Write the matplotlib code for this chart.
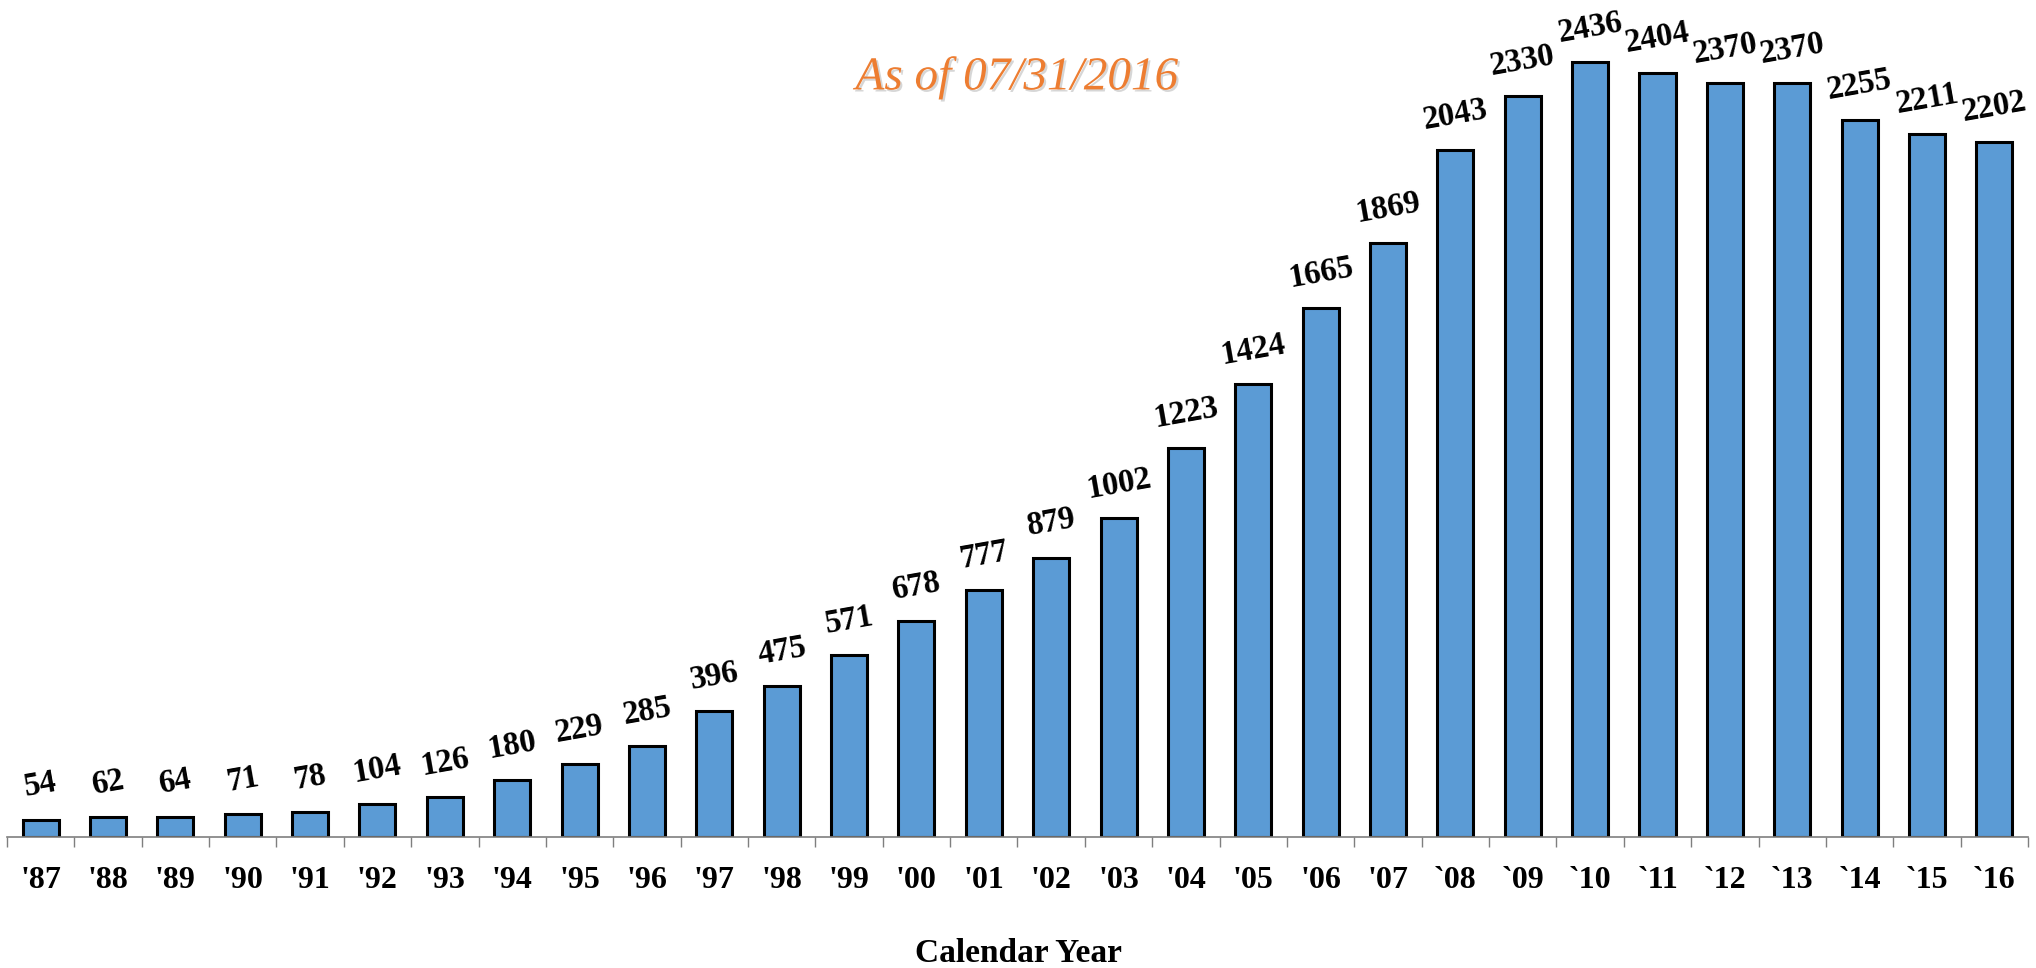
"""Bar chart of yearly counts by calendar year, as of 07/31/2016."""

from matplotlib import pyplot as plt
from matplotlib import patheffects
import numpy as np

YEARS = ["'87", "'88", "'89", "'90", "'91", "'92", "'93", "'94", "'95", "'96",
         "'97", "'98", "'99", "'00", "'01", "'02", "'03", "'04", "'05", "'06",
         "'07", "`08", "`09", "`10", "`11", "`12", "`13", "`14", "`15", "`16"]
# bar heights as drawn in the picture (the '08 and '16 bars are not drawn at their labelled value)
HEIGHTS = [54, 62, 64, 71, 78, 104, 126, 180, 229, 285,
           396, 475, 571, 678, 777, 879, 1002, 1223, 1424, 1665,
           1869, 2160, 2330, 2436, 2404, 2370, 2370, 2255, 2211, 2185]
LABELS = ["54", "62", "64", "71", "78", "104", "126", "180", "229", "285",
          "396", "475", "571", "678", "777", "879", "1002", "1223", "1424", "1665",
          "1869", "2043", "2330", "2436", "2404", "2370", "2370", "2255", "2211", "2202"]

BAR_COLOR = "#5B9BD5"
TITLE_COLOR = "#ED7D31"

plt.rcParams["font.family"] = ["Liberation Serif", "DejaVu Serif"]

fig = plt.figure(figsize=(20.36, 9.68), dpi=100)
ax = fig.add_axes([0.0034, 0.1353, 0.9927, 0.8213])

x = np.arange(len(YEARS))
ax.bar(x, HEIGHTS, width=0.535, color=BAR_COLOR, edgecolor="black", linewidth=2.2)

for xi, h, lab in zip(x, HEIGHTS, LABELS):
    ax.annotate(lab, (xi, h), xytext=(0, 25), textcoords="offset points",
                ha="center", va="center", rotation=10, fontsize=23.5, fontweight="bold")

ax.set_xlim(-0.5, len(YEARS) - 0.5)
ax.set_ylim(0, 2500)

ax.set_xticks(x)
ax.set_xticklabels(YEARS, fontsize=23, fontweight="bold")
ax.set_xticks(np.arange(-0.5, len(YEARS)), minor=True)
ax.tick_params(axis="x", which="major", length=0, pad=21)
ax.tick_params(axis="x", which="minor", length=7.5, width=1, color="#7f7f7f")
ax.set_yticks([])

for side in ["top", "right", "left"]:
    ax.spines[side].set_visible(False)
ax.spines["bottom"].set_color("#7f7f7f")
ax.spines["bottom"].set_linewidth(1.2)

fig.text(0.5, 1 - 953 / 968, "Calendar Year", ha="center", va="center",
         fontsize=24, fontweight="bold")

title = fig.text(1017 / 2036, 1 - 78 / 968, "As of 07/31/2016", ha="center", va="center",
                 fontsize=34, style="italic", color=TITLE_COLOR)
title.set_path_effects([patheffects.withSimplePatchShadow(offset=(1.5, -1.5), shadow_rgbFace="#bbbbbb", alpha=0.6)])

fig.savefig("out.png", dpi=100)
